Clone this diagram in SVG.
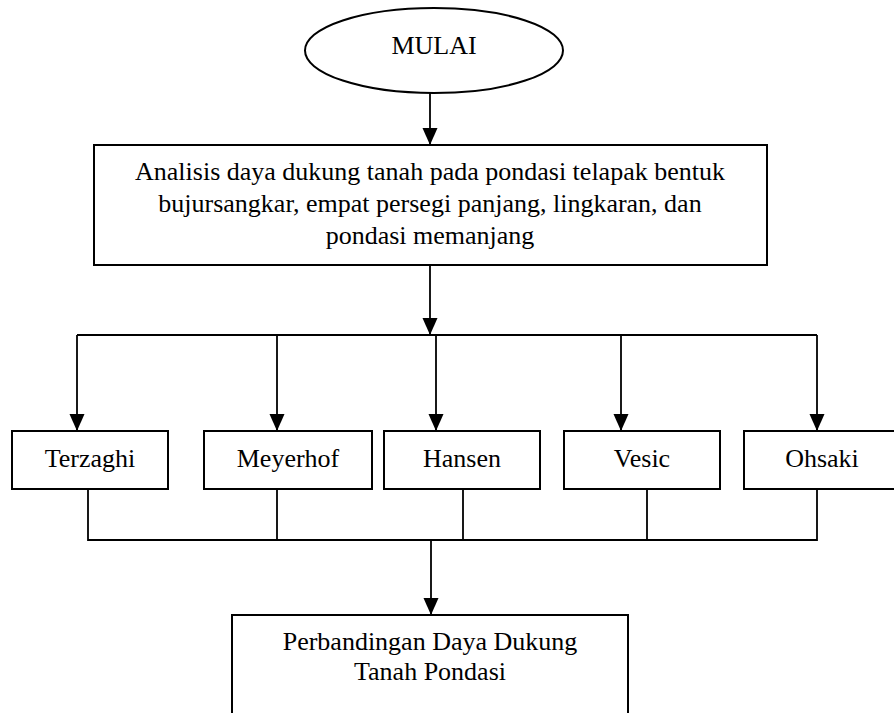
<svg xmlns="http://www.w3.org/2000/svg" width="894" height="713" viewBox="0 0 894 713">
<style>
.box{fill:#fff;stroke:#000;stroke-width:2}
.ln{fill:none;stroke:#000;stroke-width:1.8}
.t{font-size:26px;fill:#000;text-anchor:middle}
</style>
<defs>
<marker id="ah" markerUnits="userSpaceOnUse" markerWidth="17" markerHeight="16" refX="17" refY="7.5" orient="auto">
<path d="M0,0 L17,7.5 L0,15 z" fill="#000"/>
</marker>
</defs>
<rect width="894" height="713" fill="#fff"/>
<g id="connectors">
<line class="ln" x1="430" y1="93" x2="430" y2="145" marker-end="url(#ah)"/>
<line class="ln" x1="430" y1="265" x2="430" y2="335" marker-end="url(#ah)"/>
<line class="ln" x1="77" y1="335" x2="817" y2="335"/>
<line class="ln" x1="77" y1="335" x2="77" y2="431" marker-end="url(#ah)"/>
<line class="ln" x1="277" y1="335" x2="277" y2="431" marker-end="url(#ah)"/>
<line class="ln" x1="436" y1="335" x2="436" y2="431" marker-end="url(#ah)"/>
<line class="ln" x1="621" y1="335" x2="621" y2="431" marker-end="url(#ah)"/>
<line class="ln" x1="817" y1="335" x2="817" y2="431" marker-end="url(#ah)"/>
<path class="ln" d="M88,489 V540 H817 V489 M277,489 V540 M463,489 V540 M647,489 V540"/>
<line class="ln" x1="431" y1="539" x2="431" y2="615" marker-end="url(#ah)"/>
</g>
<g font-family="'Liberation Serif', 'Times New Roman', 'DejaVu Serif', serif">
<g id="mulai">
<ellipse class="box" cx="434" cy="50.5" rx="129" ry="42.5"/>
<text class="t" x="434" y="54">MULAI</text>
</g>
<g id="analisis">
<rect class="box" x="94" y="145" width="673" height="120"/>
<text class="t" x="430" y="180">Analisis daya dukung tanah pada pondasi telapak bentuk</text>
<text class="t" x="430" y="212">bujursangkar, empat persegi panjang, lingkaran, dan</text>
<text class="t" x="430" y="244">pondasi memanjang</text>
</g>
<g id="terzaghi">
<rect class="box" x="12" y="431" width="156" height="58"/>
<text class="t" x="90" y="467">Terzaghi</text>
</g>
<g id="meyerhof">
<rect class="box" x="204" y="431" width="168" height="58"/>
<text class="t" x="288" y="467">Meyerhof</text>
</g>
<g id="hansen">
<rect class="box" x="384" y="431" width="156" height="58"/>
<text class="t" x="462" y="467">Hansen</text>
</g>
<g id="vesic">
<rect class="box" x="564" y="431" width="156" height="58"/>
<text class="t" x="642" y="467">Vesic</text>
</g>
<g id="ohsaki">
<rect class="box" x="744" y="431" width="156" height="58"/>
<text class="t" x="822" y="467">Ohsaki</text>
</g>
<g id="perbandingan">
<rect class="box" x="232" y="615" width="396" height="110"/>
<text class="t" x="430" y="650">Perbandingan Daya Dukung</text>
<text class="t" x="430" y="680">Tanah Pondasi</text>
</g>
</g>
</svg>
